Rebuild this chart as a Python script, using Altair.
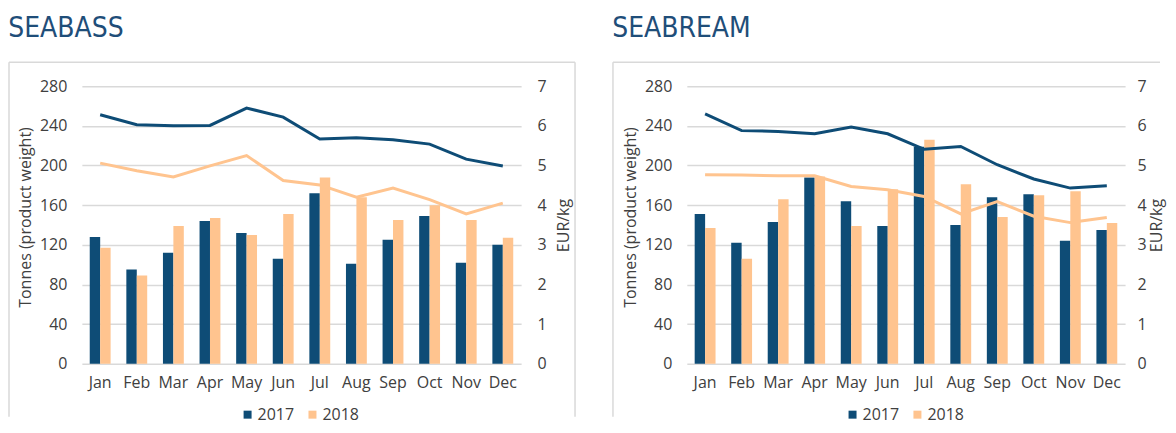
import altair as alt
import pandas as pd

months = ["Jan", "Feb", "Mar", "Apr", "May", "Jun", "Jul", "Aug", "Sep", "Oct", "Nov", "Dec"]
years = ["2017", "2018"]

seabass_vol_2017 = [128, 95, 112, 144, 132, 106, 172, 101, 125, 149, 102, 120]
seabass_vol_2018 = [117, 89, 139, 147, 130, 151, 188, 168, 145, 160, 145, 127]
seabass_price_2017 = [6.28, 6.03, 6.00, 6.01, 6.45, 6.22, 5.67, 5.70, 5.65, 5.54, 5.16, 4.99]
seabass_price_2018 = [5.06, 4.87, 4.71, 4.99, 5.25, 4.62, 4.51, 4.20, 4.43, 4.14, 3.78, 4.05]

seabream_vol_2017 = [151, 122, 143, 188, 164, 139, 219, 140, 168, 171, 124, 135]
seabream_vol_2018 = [137, 106, 166, 189, 139, 176, 226, 181, 148, 170, 174, 142]
seabream_price_2017 = [6.30, 5.88, 5.86, 5.80, 5.97, 5.80, 5.41, 5.48, 5.02, 4.66, 4.43, 4.49]
seabream_price_2018 = [4.77, 4.76, 4.74, 4.74, 4.47, 4.39, 4.22, 3.78, 4.09, 3.72, 3.56, 3.69]

DARK = "#0E4C76"
LIGHT = "#FFC48F"
TEXT = "#404040"
GRID = "#D9D9D9"
FONT = "Open Sans"
TITLE_FONT = "'DejaVu Sans Condensed', 'Liberation Sans Narrow', 'Open Sans', sans-serif"


def frame(vols, prices):
    rows = []
    for y, v, p in zip(years, vols, prices):
        for m, vv, pp in zip(months, v, p):
            rows.append({"month": m, "year": y, "tonnes": vv, "price": pp})
    return pd.DataFrame(rows)


def panel(title, df, W, box_left, box_right, draw_right_edge, r_label_pad, r_title_pad):
    H = 278
    x = alt.X("month:N", sort=months, title=None,
              scale=alt.Scale(paddingInner=0.43, paddingOuter=0.215),
              axis=alt.Axis(labelAngle=0, labelPadding=11, domain=False, ticks=False, grid=False))
    color = alt.Color("year:N", scale=alt.Scale(domain=years, range=[DARK, LIGHT]),
                      legend=alt.Legend(title=None, orient="none", legendX=158, legendY=321,
                                        direction="horizontal", symbolType="square",
                                        symbolSize=64, symbolStrokeWidth=0, padding=0,
                                        labelFont=FONT, labelFontSize=16, labelColor=TEXT,
                                        columnPadding=10, labelOffset=2))
    bars = alt.Chart(df).mark_bar().encode(
        x=x,
        xOffset=alt.XOffset("year:N", sort=years, scale=alt.Scale(paddingInner=0, paddingOuter=0)),
        y=alt.Y("tonnes:Q", stack=None, title="Tonnes (product weight)",
                scale=alt.Scale(domain=[0, 280], nice=False),
                axis=alt.Axis(values=list(range(0, 281, 40)), labelPadding=15, titlePadding=6,
                              domain=False, ticks=False, gridColor=GRID, gridWidth=1.5,
                              titleY=131)),
        color=color,
    )
    lines = alt.Chart(df).mark_line(strokeWidth=3).encode(
        x=x,
        y=alt.Y("price:Q", title="EUR/kg", scale=alt.Scale(domain=[0, 7], nice=False),
                axis=alt.Axis(orient="right", values=list(range(0, 8)), labelPadding=r_label_pad,
                              titlePadding=r_title_pad, titleAngle=270, titleBaseline="top",
                              domain=False, ticks=False, grid=False)),
        color=color,
    )
    edge = pd.DataFrame({"k": [0]})
    top = alt.Chart(edge).mark_rule(color=GRID, strokeWidth=1.5).encode(
        x=alt.value(box_left), x2=alt.value(box_right), y=alt.value(-24), y2=alt.value(-24))
    left = alt.Chart(edge).mark_rule(color=GRID, strokeWidth=1.5).encode(
        x=alt.value(box_left), y=alt.value(-24), y2=alt.value(331))
    layers = [top, left]
    if draw_right_edge:
        layers.append(alt.Chart(edge).mark_rule(color=GRID, strokeWidth=1.5).encode(
            x=alt.value(box_right), y=alt.value(-24), y2=alt.value(331)))
    ch = alt.layer(*layers, bars, lines).resolve_scale(y="independent").properties(
        width=W, height=H,
        title=alt.TitleParams(title, anchor="start", font=TITLE_FONT, fontSize=28,
                              fontWeight="normal", color="#1F4E79", offset=19),
    )
    return ch


left_df = frame([seabass_vol_2017, seabass_vol_2018], [seabass_price_2017, seabass_price_2018])
right_df = frame([seabream_vol_2017, seabream_vol_2018], [seabream_price_2017, seabream_price_2018])

chart = alt.hconcat(
    panel("SEABASS", left_df, 440, -73, 494, True, 16, 9),
    panel("SEABREAM", right_df, 439, -74, 474, False, 12, 2),
    spacing=36,
).resolve_scale(color="independent").properties(
    padding={"top": 6, "left": 0, "right": 3, "bottom": 2},
    background="white",
).configure_view(stroke=None).configure_axis(
    labelFont=FONT, labelFontSize=16, labelColor=TEXT,
    titleFont=FONT, titleFontSize=16, titleFontWeight="normal", titleColor=TEXT,
)

chart.save("out.html", embed_options={"renderer": "svg", "actions": False})
